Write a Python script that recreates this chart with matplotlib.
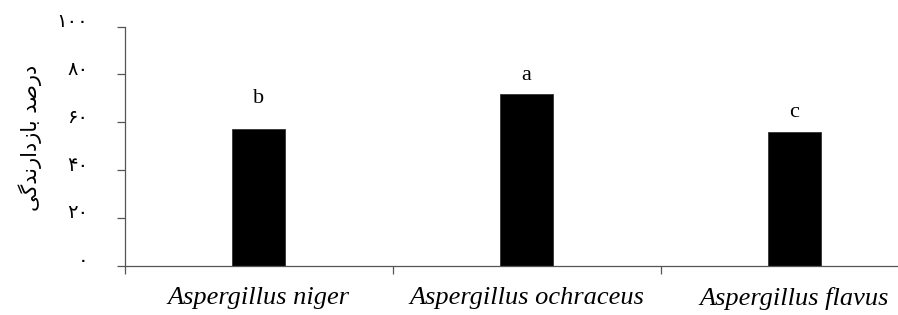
import matplotlib
matplotlib.use("Agg")
import matplotlib.pyplot as plt
import matplotlib.transforms as mtransforms
import numpy as np

# data
species = ["Aspergillus niger", "Aspergillus ochraceus", "Aspergillus flavus"]
inhibition = [57.3, 71.7, 55.9]
groups = ["b", "a", "c"]
y_ticks = [0, 20, 40, 60, 80, 100]
y_tick_labels = ["۰", "۲۰", "۴۰", "۶۰", "۸۰", "۱۰۰"]
# "درصد بازدارندگی" written in shaped presentation forms, visual order
y_label = "\ufbfd\ufb94\ufeaa\ufee7\ufead\ufe8d\ufea9\ufeaf\ufe8e\ufe91 \ufeaa\ufebb\ufead\ufea9"

letter_offsets = [15, 7, 7]  # points above each bar
axis_color = "#555555"

fig = plt.figure(figsize=(8.98, 3.15), dpi=100)
ax = fig.add_axes([124.5 / 898, 1 - 265.7 / 315, 804 / 898, (265.7 - 26.7) / 315])

x = np.arange(len(species))
ax.bar(x, inhibition, width=0.2, color="black", edgecolor="#333333", linewidth=0.6)

for xi, v, g, off in zip(x, inhibition, groups, letter_offsets):
    ax.annotate(g, (xi, v), xytext=(0, off), textcoords="offset points",
                ha="center", va="bottom", fontsize=16, family="Liberation Serif")

ax.set_xlim(-0.5, 2.5)
ax.set_ylim(0, 100)

ax.set_xticks(np.arange(len(species) + 1) - 0.5)
ax.set_xticklabels([])
ax.set_xticks(x, minor=True)
ax.set_xticklabels(species, minor=True, fontsize=19, family="Liberation Serif", style="italic")
ax.tick_params(axis="x", which="major", direction="out", length=6, width=0.9, color=axis_color)
ax.tick_params(axis="x", which="minor", length=0, pad=15)

ax.set_yticks(y_ticks)
ax.set_yticklabels(y_tick_labels, fontsize=14, family="DejaVu Sans")
ax.tick_params(axis="y", direction="out", length=6, width=0.9, color=axis_color, pad=20)
shift = mtransforms.ScaledTranslation(0, 5 / 72, fig.dpi_scale_trans)
for lbl in ax.get_yticklabels():
    lbl.set_transform(lbl.get_transform() + shift)

for side in ["top", "right"]:
    ax.spines[side].set_visible(False)
for side in ["left", "bottom"]:
    ax.spines[side].set_color(axis_color)
    ax.spines[side].set_linewidth(0.9)

fig.text(30 / 898, 1 - 138 / 315, y_label, rotation=90, ha="center", va="center",
         fontsize=15, family="DejaVu Sans")

fig.savefig("out.png", dpi=100)
